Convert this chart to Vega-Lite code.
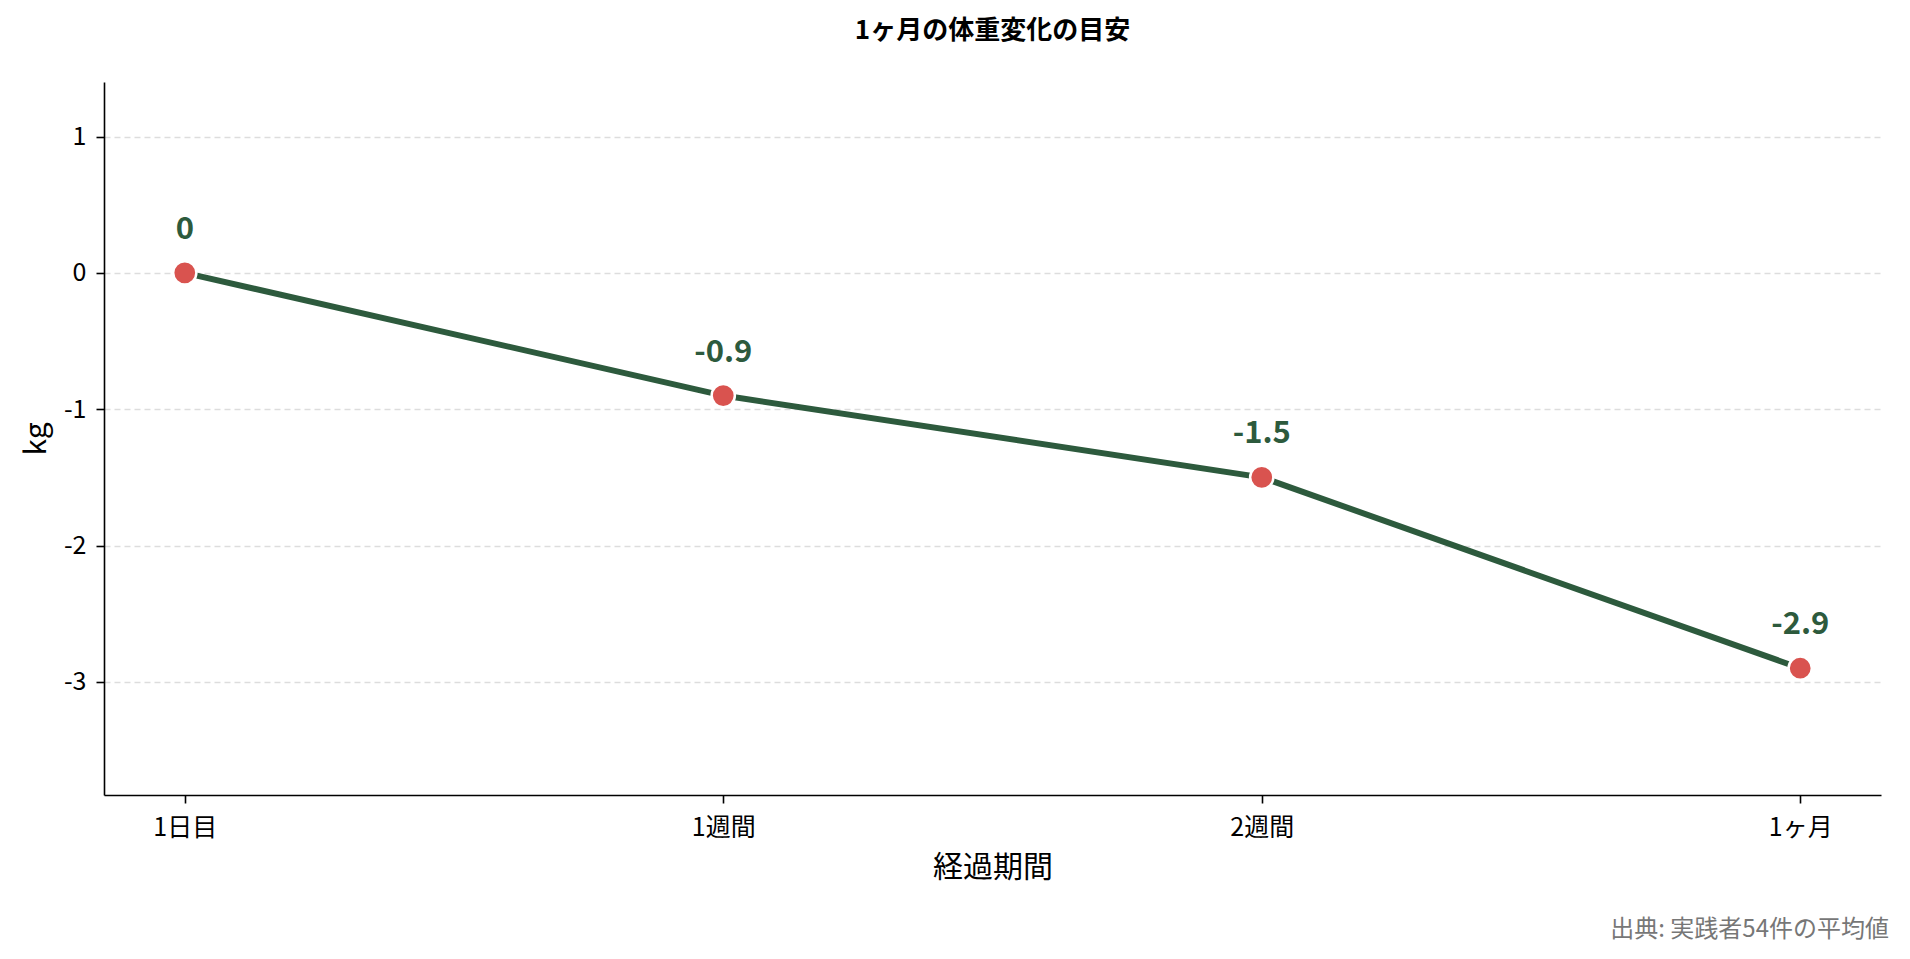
{
  "$schema": "https://vega.github.io/schema/vega-lite/v6.json",
  "padding": {"left": 21, "top": 18, "right": 10, "bottom": 10},
  "background": "white",
  "config": {
    "font": "Noto Sans CJK JP",
    "view": {"stroke": null},
    "locale": {"number": {"decimal": ".", "thousands": ",", "grouping": [3], "currency": ["", ""], "minus": "-"}},
    "axis": {"labelFont": "Noto Sans CJK JP", "titleFont": "Noto Sans CJK JP", "labelColor": "#000", "titleColor": "#000", "domainColor": "#000", "tickColor": "#000", "domainWidth": 1.6, "tickWidth": 1.6, "tickSize": 8, "labelFontSize": 25, "titleFontSize": 30, "titleFontWeight": "normal"}
  },
  "title": {"text": "出典: 実践者54件の平均値", "orient": "bottom", "anchor": "end", "color": "#777777", "fontSize": 24, "fontWeight": "normal", "font": "Noto Sans CJK JP", "offset": 36, "dx": 8},
  "vconcat": [
    {
      "width": 1777,
      "height": 713,
      "title": {"text": "1ヶ月の体重変化の目安", "anchor": "middle", "frame": "group", "fontSize": 26, "fontWeight": "bold", "font": "Noto Sans CJK JP", "color": "#000", "offset": 38},
      "data": {"values": [
        {"period": "1日目", "kg": 0},
        {"period": "1週間", "kg": -0.9},
        {"period": "2週間", "kg": -1.5},
        {"period": "1ヶ月", "kg": -2.9}
      ]},
      "encoding": {
        "x": {"field": "period", "type": "nominal", "sort": null, "scale": {"type": "point", "padding": 0.15},
              "axis": {"title": "経過期間", "labelAngle": 0, "labelPadding": 12, "titlePadding": 12, "grid": false}},
        "y": {"field": "kg", "type": "quantitative", "scale": {"domain": [-3.83, 1.40], "nice": false, "zero": false},
              "axis": {"title": "kg", "values": [-3, -2, -1, 0, 1], "format": "d", "labelPadding": 10, "titlePadding": 12,
                       "grid": true, "gridColor": "#dddddd", "gridDash": [6, 4], "gridWidth": 1.3}}
      },
      "layer": [
        {"mark": {"type": "line", "color": "#2d5a3d", "strokeWidth": 6}},
        {"mark": {"type": "point", "shape": "circle", "filled": true, "fill": "#d9534f", "stroke": "white", "strokeWidth": 2.5, "size": 540, "opacity": 1}},
        {"mark": {"type": "text", "color": "#2d5a3d", "fontSize": 31, "fontWeight": "bold", "dy": -43, "baseline": "middle"},
         "encoding": {"text": {"field": "kg", "type": "quantitative", "format": "~g"}}}
      ]
    }
  ]
}
